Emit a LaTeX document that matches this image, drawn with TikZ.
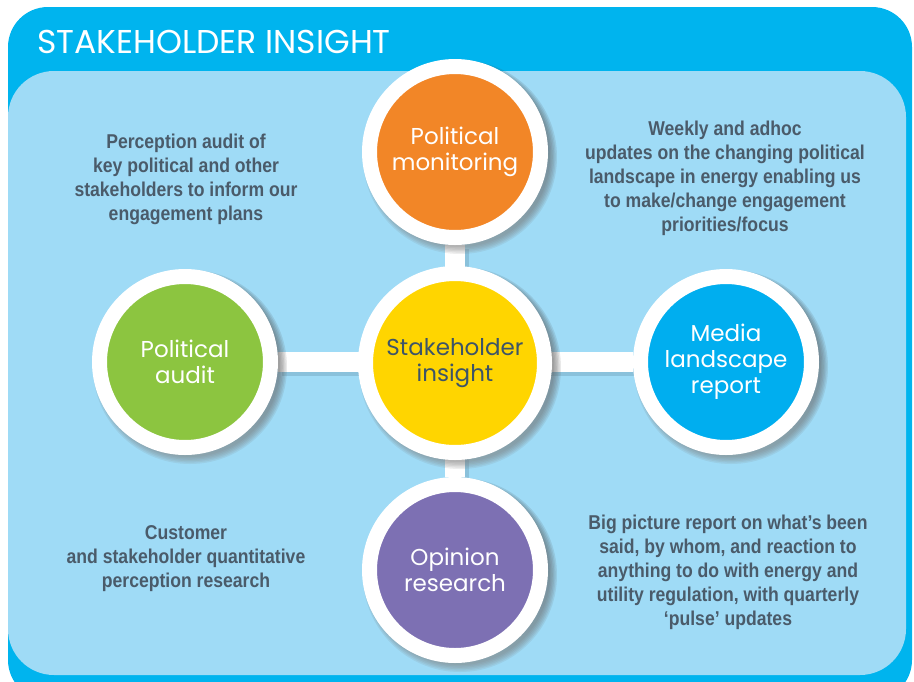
\documentclass[tikz,border=0pt]{standalone}
\usepackage{fontspec}
\setmainfont{Liberation Sans}
\newfontfamily\descfont[FakeStretch=0.88]{Liberation Sans}
\newfontfamily\roundfont{Poppins}
\newfontfamily\titlefont{Poppins}
\definecolor{frameblue}{HTML}{00B4EE}
\definecolor{panelblue}{HTML}{9FDBF6}
\definecolor{orangefill}{HTML}{F28627}
\definecolor{yellowfill}{HTML}{FFD500}
\definecolor{greenfill}{HTML}{8CC540}
\definecolor{bluefill}{HTML}{00AEEF}
\definecolor{purplefill}{HTML}{7D70B3}
\definecolor{slate}{HTML}{4A5B6A}
\definecolor{hubtext}{HTML}{3D5468}
\definecolor{shade}{HTML}{2F4E63}
\pgfdeclarelayer{bg}
\pgfsetlayers{bg,main}
\tikzset{
  hub/.style={circle, draw=white, line width=15pt, minimum size=171pt, inner sep=0pt,
    align=center, text=white, font=\roundfont\fontsize{23}{26}\selectfont},
  bighub/.style={hub, minimum size=179pt, text=hubtext},
  desc/.style={align=center, text=slate, font=\descfont\bfseries\fontsize{20}{24}\selectfont, inner sep=0pt},
  bar/.style={draw=white, line width=20pt},
  barshade/.style={draw=shade, line width=20pt, opacity=0.18, transform canvas={shift={(4pt,-4pt)}}},
}
\newcommand{\softshadow}[3]{% centre x, centre y, radius
  \foreach \k in {0,...,5}{\fill[shade, opacity=0.07] (#1+5,#2+5) circle ({#3-3+\k*1.4});}}
\begin{document}
\begin{tikzpicture}[x=1pt,y=-1pt]
\useasboundingbox (0,0) rectangle (914,681);
\clip (0,0) rectangle (914,681);

% circles
\node[hub, fill=orangefill] (pm) at (455,152) {Political\\monitoring};
\node[bighub, fill=yellowfill] (si) at (455,363) {Stakeholder\\insight};
\node[hub, fill=greenfill] (pa) at (185,362) {Political\\audit};
\node[hub, fill=bluefill] (mr) at (726,362) {Media\\landscape\\report};
\node[hub, fill=purplefill] (or) at (455,570) {Opinion\\research};

% title
\node[anchor=base west, inner sep=0pt, text=white, font=\titlefont\fontsize{33}{33}\selectfont] (title) at (37,53) {STAKEHOLDER INSIGHT};

% descriptions
\node[desc] (dpa) at (186,179) {Perception audit of\\key political and other\\stakeholders to inform our\\engagement plans};
\node[desc] (dpm) at (725,178) {Weekly and adhoc\\updates on the changing political\\landscape in energy enabling us\\to make/change engagement\\priorities/focus};
\node[desc] (dor) at (186,559) {Customer\\and stakeholder quantitative\\perception research};
\node[desc] (dmr) at (728,572) {Big picture report on what’s been\\said, by whom, and reaction to\\anything to do with energy and\\utility regulation, with quarterly\\‘pulse’ updates};

\begin{pgfonlayer}{bg}
  % frame and panel
  \fill[frameblue, rounded corners=40pt] (8,7) rectangle (912,700);
  \fill[panelblue, rounded corners=46pt] (8,71) rectangle (906,675);
  % connectors
  \draw[barshade] (pa) -- (mr);
  \draw[barshade] (pm) -- (or);
  \draw[bar] (pa) -- (mr);
  \draw[bar] (pm) -- (or);
  % circle shadows
  \softshadow{455}{152}{93}
  \softshadow{455}{363}{97}
  \softshadow{185}{362}{93}
  \softshadow{726}{362}{93}
  \softshadow{455}{570}{93}
\end{pgfonlayer}
\end{tikzpicture}
\end{document}
